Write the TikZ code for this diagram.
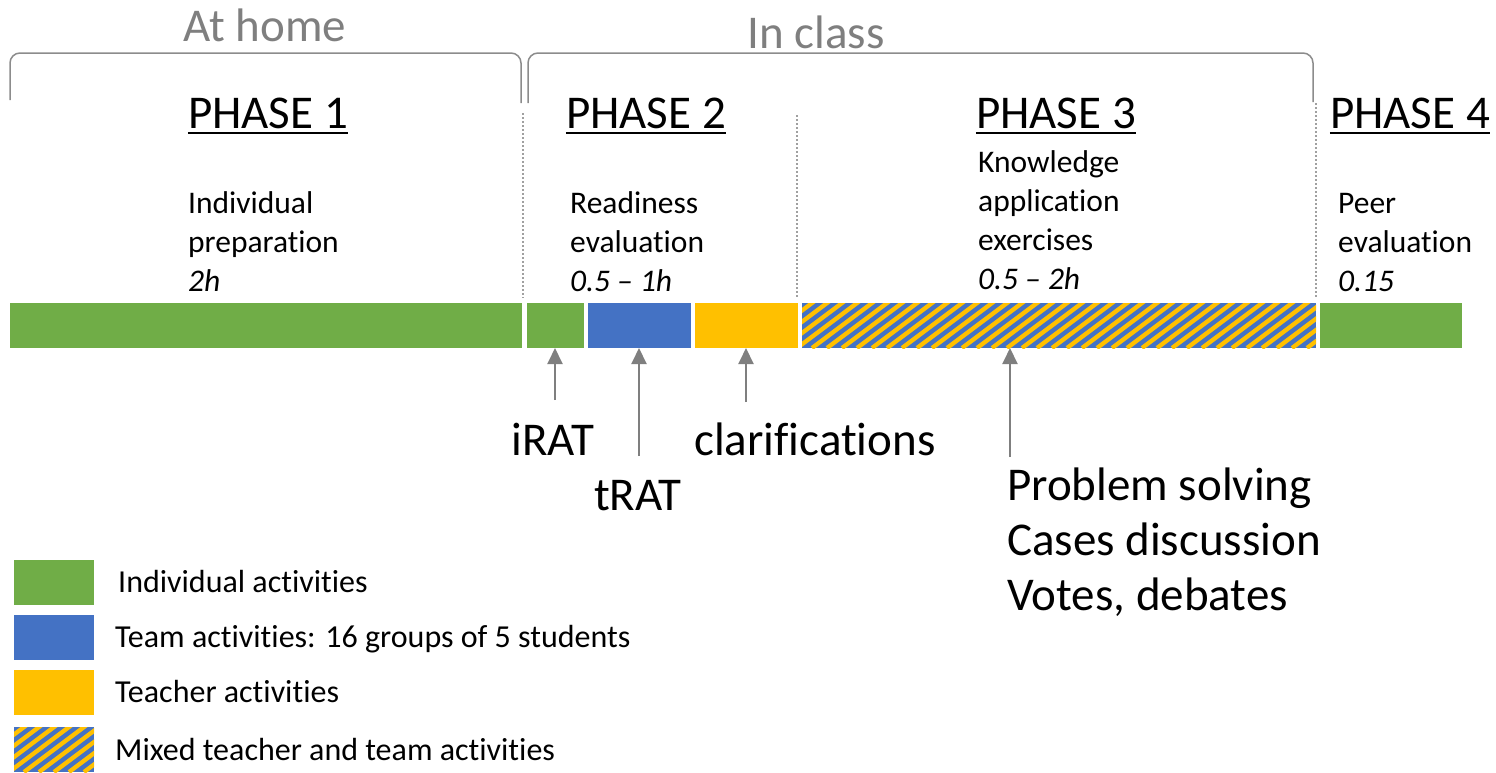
\documentclass[tikz,border=0pt]{standalone}
\usepackage{fontspec}
\setmainfont{Carlito}[Ligatures=NoCommon]
\usepackage{tikz}
\usetikzlibrary{positioning,arrows.meta}

\definecolor{indgreen}{HTML}{70AD47}
\definecolor{teamblue}{HTML}{4472C4}
\definecolor{teachyellow}{HTML}{FFC000}
\definecolor{arrowgray}{HTML}{7F7F7F}
\definecolor{bracegray}{HTML}{8C8C8C}
\definecolor{dotgray}{HTML}{A0A0A0}

% blue box with yellow diagonal stripes
\newcommand{\mixhatch}[1]{%
  \begin{scope}
    \clip (#1.north west) rectangle (#1.south east);
    \fill[teamblue] (#1.north west) rectangle (#1.south east);
    \foreach \s in {-80,-65,...,540}
      \draw[teachyellow,line width=4.3pt] ([xshift=\s pt]#1.south west) -- ++(80,-60);
  \end{scope}}

\begin{document}
\begin{tikzpicture}[
  x=1pt,y=-1pt,
  bar/.style={rectangle,inner sep=0pt,outer sep=0pt,minimum height=45pt,anchor=north west},
  keybox/.style={rectangle,inner sep=0pt,outer sep=0pt,minimum width=80pt,minimum height=45pt,anchor=north west},
  header/.style={font=\fontsize{47}{56}\selectfont,text=arrowgray,anchor=base,inner sep=0pt},
  phase/.style={font=\fontsize{47}{56}\selectfont,anchor=base,inner sep=0pt},
  notes/.style={font=\fontsize{31.5}{39}\selectfont,align=left,anchor=base west,inner sep=0pt},
  big/.style={font=\fontsize{47}{55}\selectfont,inner sep=0pt},
  legend/.style={font=\fontsize{32}{38}\selectfont,anchor=base west,inner sep=0pt},
  brk/.style={draw=bracegray,line width=1.5pt,rounded corners=10pt},
  sep/.style={draw=dotgray,line width=2pt,dash pattern=on 2pt off 2pt},
  pointer/.style={draw=arrowgray,line width=2pt,-{Triangle[length=16pt,width=15pt]}},
]
\useasboundingbox (0,0) rectangle (1496,772);

\node (home) [header] at (265,41) {At home};
\node (class) [header] at (816,48) {In class};
\draw[brk] (10,100) -- (10,53) -- (521,53) -- (521,103);
\draw[brk] (528,103) -- (528,53) -- (1313,53) -- (1313,102);

\node (ph1) [phase] at (268,128) {PHASE 1};
\node (ph2) [phase] at (646,128) {PHASE 2};
\node (ph3) [phase] at (1056,128) {PHASE 3};
\node (ph4) [phase] at (1410,128) {PHASE 4};
\foreach \n in {ph1,ph2,ph3,ph4}
  \draw[line width=2.5pt] ([yshift=-5pt]\n.base west) -- ([yshift=-5pt]\n.base east);

% multi-line nodes sit on their last baseline
\node (prep) [notes] at (188,291) {Individual\\preparation\\\itshape 2h};
\node (ready) [notes] at (570,291) {Readiness\\evaluation\\\itshape 0.5 -- 1h};
\node (apply) [notes] at (978,289) {Knowledge\\application\\exercises\\\itshape 0.5 -- 2h};
\node (peereval) [notes] at (1338,291) {Peer\\evaluation\\\itshape 0.15};

\draw[sep] (523,113) -- (523,298);
\draw[sep] (797,115) -- (797,298);
\draw[sep] (1316,103) -- (1316,298);

% timeline
\node (ind1) [bar,fill=indgreen,minimum width=512pt] at (10,303) {};
\node (ind2) [bar,fill=indgreen,minimum width=57pt] at (527,303) {};
\node (team) [bar,fill=teamblue,minimum width=103pt] at (588,303) {};
\node (teach) [bar,fill=teachyellow,minimum width=103pt] at (695,303) {};
\node (mix) [bar,minimum width=514pt] at (802,303) {};
\mixhatch{mix}
\node (peer) [bar,fill=indgreen,minimum width=142pt] at (1320,303) {};

\coordinate (irat-tail) at (555,400);
\coordinate (trat-tail) at (639,456);
\coordinate (clar-tail) at (746,402);
\coordinate (prob-tail) at (1010,457);
\draw[pointer] (irat-tail) -- (irat-tail |- ind2.south);
\draw[pointer] (trat-tail) -- (trat-tail |- team.south);
\draw[pointer] (clar-tail) -- (clar-tail |- teach.south);
\draw[pointer] (prob-tail) -- (prob-tail |- mix.south);

\node (irat) [big,anchor=base] at (553,455) {iRAT};
\node (trat) [big,anchor=base] at (638,510) {tRAT};
\node (clar) [big,anchor=base west] at (694,455) {clarifications};
\node (prob) [big,align=left,anchor=base west] at (1007,610) {Problem solving\\Cases discussion\\Votes, debates};

% legend
\node (key1) [keybox,fill=indgreen] at (14,560) {};
\node (key2) [keybox,fill=teamblue] at (14,615) {};
\node (key3) [keybox,fill=teachyellow] at (14,670) {};
\node (key4) [keybox] at (14,727) {};
\mixhatch{key4}
\node (lab1) [legend] at (118,592) {Individual activities};
\node (lab2) [legend] at (115,647) {Team activities: 16 groups of 5 students};
\node (lab3) [legend] at (115,702) {Teacher activities};
\node (lab4) [legend] at (115,760) {Mixed teacher and team activities};
\end{tikzpicture}
\end{document}
